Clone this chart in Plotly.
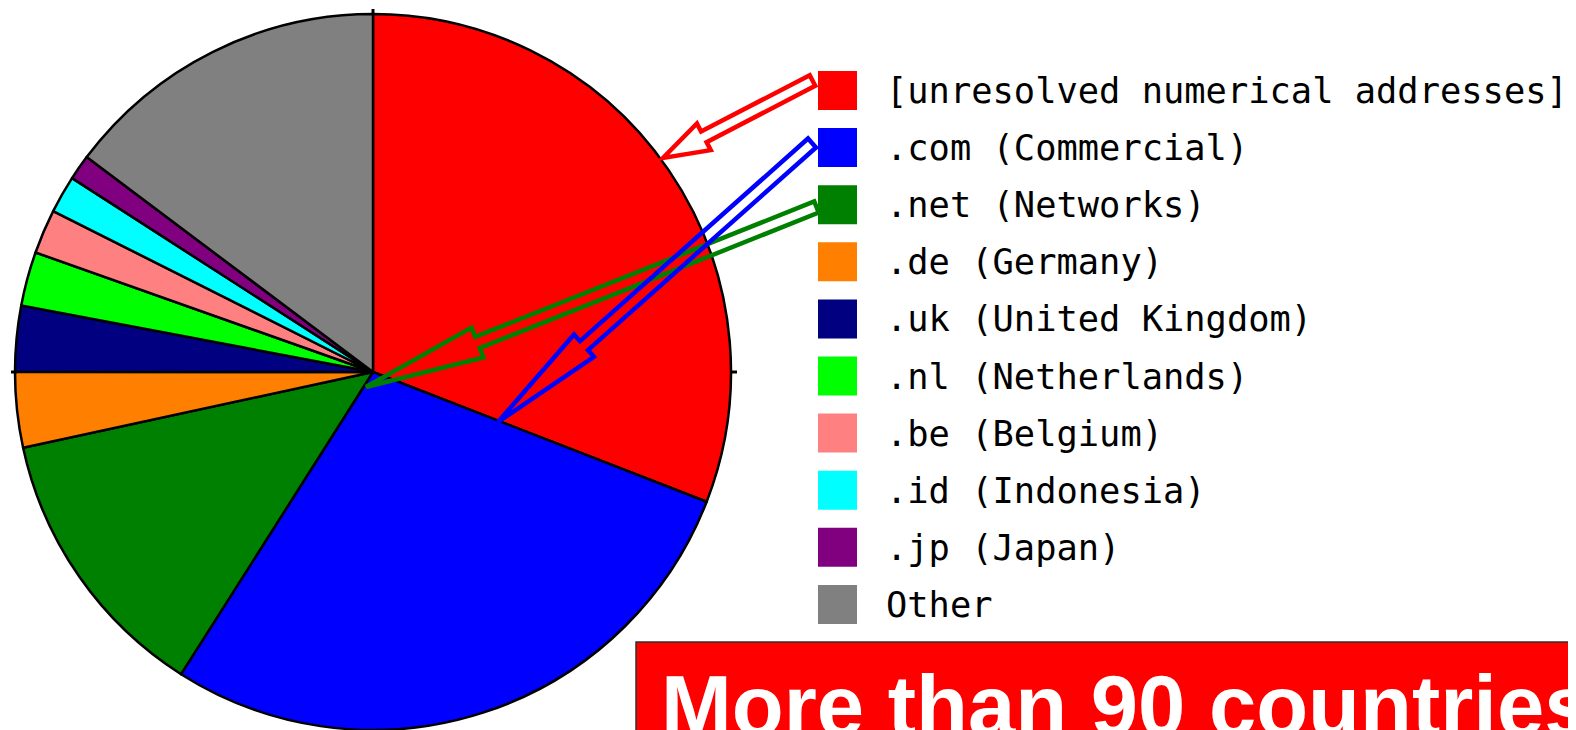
import plotly.graph_objects as go

# ---- data ----
labels = ["[unresolved numerical addresses]", ".com (Commercial)", ".net (Networks)",
          ".de (Germany)", ".uk (United Kingdom)", ".nl (Netherlands)", ".be (Belgium)",
          ".id (Indonesia)", ".jp (Japan)", "Other"]
values = [30.9, 28.1, 12.6, 3.4, 2.97, 2.44, 2.0, 1.69, 1.14, 14.75]
colors = ["#ff0000", "#0000ff", "#008000", "#ff8000", "#000080", "#00ff00",
          "#ff8080", "#00ffff", "#800080", "#808080"]
banner_text = "More than 90 countries"

W, H = 1576, 730
OFF = 8  # page body margin


def px(x):
    return (x - OFF) / W


def py(y):
    return 1 - (y - OFF) / H


fig = go.Figure()
fig.add_trace(go.Pie(
    labels=labels, values=values, sort=False, direction="clockwise", rotation=0,
    marker=dict(colors=colors, line=dict(color="black", width=2.5)),
    textinfo="none", hoverinfo="label+percent", showlegend=False,
    domain=dict(x=[px(15), px(731)], y=[py(730), py(14)]),
))

shapes = []
annotations = []

# small tick marks around the pie
for (x0, y0, x1, y1) in [(373, 9, 373, 15), (11, 372, 17, 372), (730, 372, 737, 372)]:
    shapes.append(dict(type="line", xref="paper", yref="paper",
                       x0=px(x0), y0=py(y0), x1=px(x1), y1=py(y1),
                       line=dict(color="black", width=3)))

# custom legend
for i, (lab, col) in enumerate(zip(labels, colors)):
    top = 71 + 57.1 * i
    shapes.append(dict(type="rect", xref="paper", yref="paper",
                       x0=px(818), x1=px(857), y0=py(top), y1=py(top + 39),
                       fillcolor=col, line=dict(width=0)))
    annotations.append(dict(text=lab, xref="paper", yref="paper", x=px(884), y=py(top + 19.5),
                            xanchor="left", yanchor="middle", showarrow=False,
                            font=dict(family="DejaVu Sans Mono", size=35.4, color="black")))


# hollow arrows
def arrow_path(tail, tip, head_len, head_half, shaft_half):
    tx, ty = tail
    hx, hy = tip
    dx, dy = hx - tx, hy - ty
    L = (dx * dx + dy * dy) ** 0.5
    ux, uy = dx / L, dy / L
    pxv, pyv = -uy, ux
    sx, sy = hx - head_len * ux, hy - head_len * uy
    pts = [
        (tx + shaft_half * pxv, ty + shaft_half * pyv),
        (sx + shaft_half * pxv, sy + shaft_half * pyv),
        (sx + head_half * pxv, sy + head_half * pyv),
        (hx, hy),
        (sx - head_half * pxv, sy - head_half * pyv),
        (sx - shaft_half * pxv, sy - shaft_half * pyv),
        (tx - shaft_half * pxv, ty - shaft_half * pyv),
    ]
    d = "M " + " L ".join(f"{px(a):.5f},{py(b):.5f}" for a, b in pts) + " Z"
    return d


arrows = [
    ("#008000", (816.5, 207), (366, 387), 120, 16, 6),
    ("#0000ff", (812, 143), (498, 422), 115, 15, 6),
    ("#ff0000", (812.5, 80.5), (663, 158), 46, 15, 6),
]
for col, tail, tip, hl, hh, sh in arrows:
    shapes.append(dict(type="path", xref="paper", yref="paper",
                       path=arrow_path(tail, tip, hl, hh, sh),
                       fillcolor="rgba(0,0,0,0)", line=dict(color=col, width=4.5)))

# red banner
shapes.append(dict(type="rect", xref="paper", yref="paper",
                   x0=px(636), x1=px(1600), y0=py(642), y1=py(760),
                   fillcolor="#ff0000", line=dict(color="#303030", width=1.5)))
annotations.append(dict(text="<b>" + banner_text + "</b>", xref="paper", yref="paper",
                        x=px(659), y=py(705), xanchor="left", yanchor="middle",
                        showarrow=False,
                        font=dict(family="Liberation Sans", size=85, color="white")))

fig.update_layout(
    width=W, height=H, margin=dict(l=0, r=0, t=0, b=0),
    paper_bgcolor="white", plot_bgcolor="white",
    shapes=shapes, annotations=annotations,
)

fig.write_html("out.html")
